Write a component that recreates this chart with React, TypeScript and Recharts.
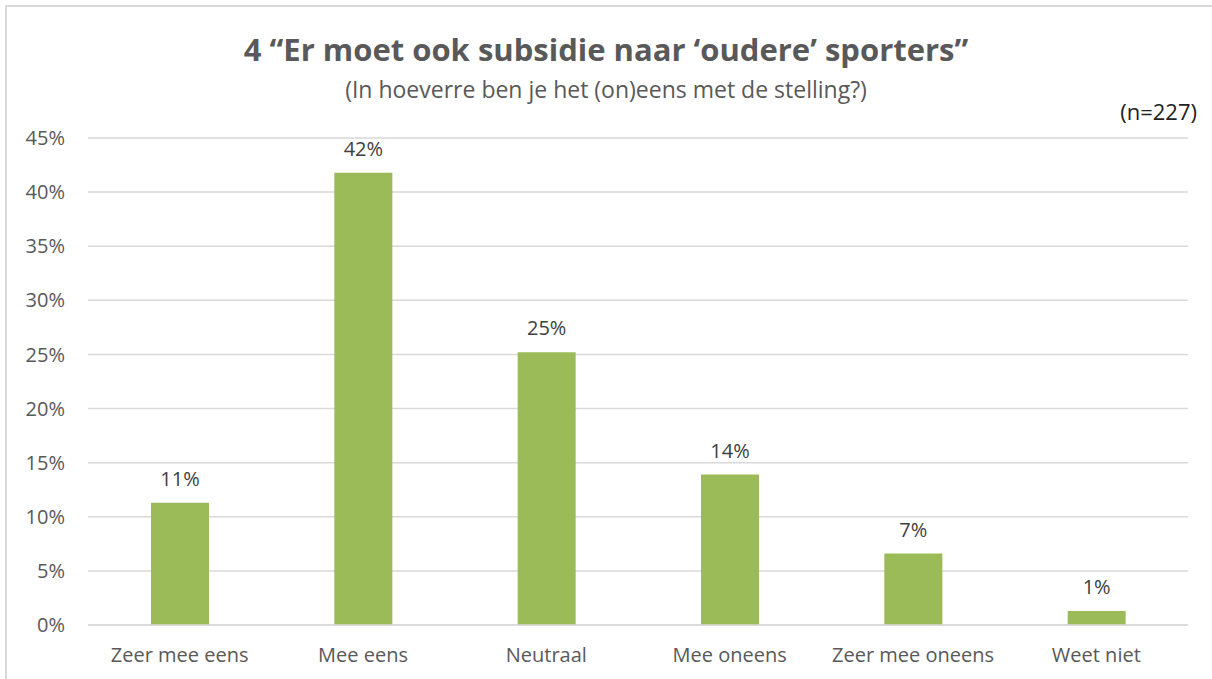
import React from 'react';
import { BarChart, Bar, XAxis, YAxis, CartesianGrid, LabelList } from 'recharts';

const categories = ['Zeer mee eens', 'Mee eens', 'Neutraal', 'Mee oneens', 'Zeer mee oneens', 'Weet niet'];
const percentages = [11.3, 41.8, 25.2, 13.9, 6.6, 1.3];
const yTicks = [0, 5, 10, 15, 20, 25, 30, 35, 40, 45];

const data = categories.map((name, i) => ({ name, value: percentages[i] }));

const FONT = '"Open Sans", "Liberation Sans", sans-serif';
const GREY = '#595959';

const App: React.FC = () => {
  return (
    <div style={{ position: 'fixed', left: 0, top: 0, width: 1212, height: 679, overflow: 'hidden', background: '#fff', fontFamily: FONT }}>
      {/* chart frame: only the left and top edges show */}
      <div style={{ position: 'absolute', left: 5, top: 5, width: 2, height: 700, background: '#d9d9d9' }} />
      <div style={{ position: 'absolute', left: 5, top: 5, width: 1220, height: 2, background: '#d9d9d9' }} />
      <div style={{ position: 'absolute', left: 0, top: 28, width: 1212, textAlign: 'center', fontSize: 31, fontWeight: 700, color: GREY, lineHeight: 'normal', whiteSpace: 'nowrap' }}>
        4 “Er moet ook subsidie naar ‘oudere’ sporters”
      </div>
      <div style={{ position: 'absolute', left: 0, top: 73, width: 1212, textAlign: 'center', fontSize: 23, color: GREY, lineHeight: 'normal', whiteSpace: 'nowrap' }}>
        (In hoeverre ben je het (on)eens met de stelling?)
      </div>
      <div style={{ position: 'absolute', right: 15, top: 96, fontSize: 22, color: '#222', lineHeight: 'normal' }}>(n=227)</div>
      <div style={{ position: 'absolute', left: 0, top: 0 }}>
        <BarChart
          width={1212}
          height={679}
          data={data}
          margin={{ top: 138, right: 24, bottom: 0, left: 0 }}
          barSize={58}
        >
          <CartesianGrid vertical={false} stroke="#d9d9d9" strokeWidth={1.5} />
          <XAxis
            dataKey="name"
            height={54}
            axisLine={{ stroke: '#d9d9d9', strokeWidth: 1.5 }}
            tickLine={false}
            tickSize={0}
            tickMargin={23}
            interval={0}
            tick={{ fill: GREY, fontSize: 20, fontFamily: FONT }}
          />
          <YAxis
            width={88}
            domain={[0, 45]}
            ticks={yTicks}
            interval={0}
            axisLine={false}
            tickLine={false}
            tickSize={0}
            tickMargin={23}
            tickFormatter={(v: number) => `${v}%`}
            tick={{ fill: GREY, fontSize: 20, fontFamily: FONT }}
          />
          <Bar dataKey="value" fill="#9bbb59" isAnimationActive={false}>
            <LabelList
              dataKey="value"
              position="top"
              offset={17}
              formatter={(v: number) => `${Math.round(v)}%`}
              style={{ fill: '#404040', fontSize: 20, fontFamily: FONT }}
            />
          </Bar>
        </BarChart>
      </div>
    </div>
  );
};

export default App;
